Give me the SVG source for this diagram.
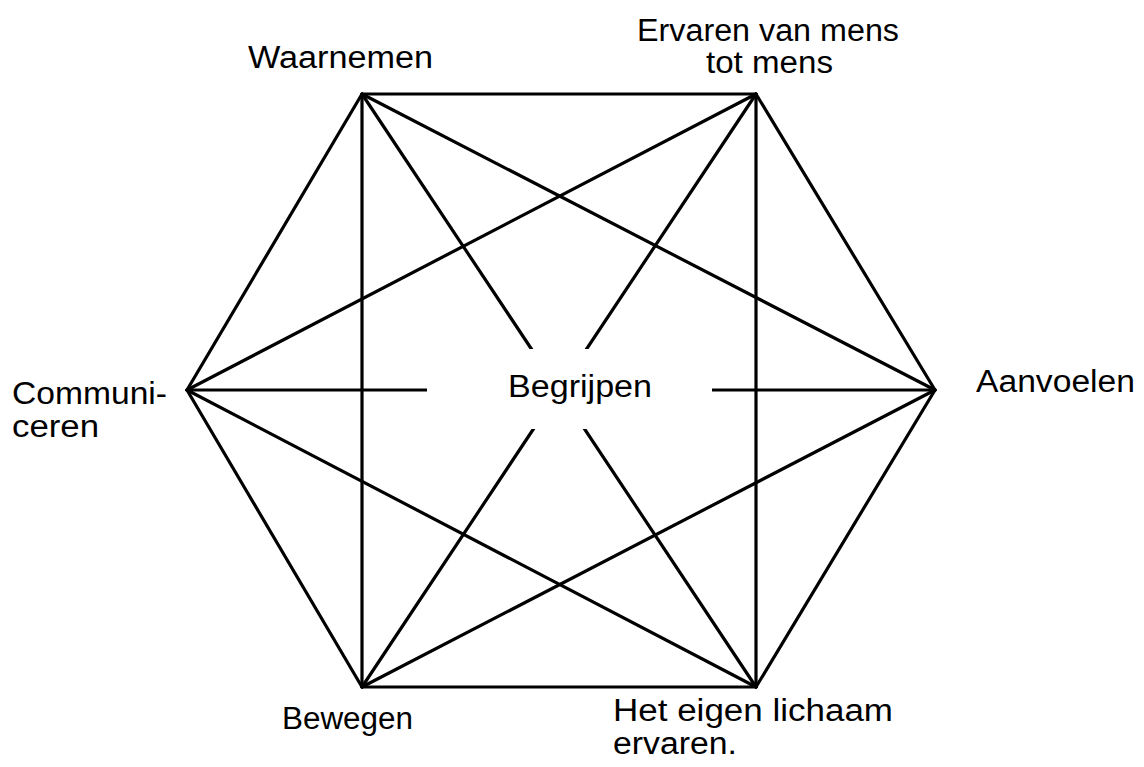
<svg xmlns="http://www.w3.org/2000/svg" width="1144" height="767" viewBox="0 0 1144 767">
<style>
.l{stroke:#000;stroke-width:3.2;fill:none;stroke-linecap:round;stroke-linejoin:round}
text{font-family:"Liberation Sans",Arial,sans-serif;font-size:31px;fill:#000}
</style>
<rect width="1144" height="767" fill="#fff"/>
<g id="connectors">
<polygon class="l" points="362,94 756,94 935,390 756,687 362,687 187,390"/>
<line class="l" x1="362" y1="94" x2="362" y2="687"/>
<line class="l" x1="756" y1="94" x2="756" y2="687"/>
<line class="l" x1="362" y1="94" x2="935" y2="390"/>
<line class="l" x1="362" y1="94" x2="756" y2="687"/>
<line class="l" x1="756" y1="94" x2="187" y2="390"/>
<line class="l" x1="756" y1="94" x2="362" y2="687"/>
<line class="l" x1="187" y1="390" x2="756" y2="687"/>
<line class="l" x1="935" y1="390" x2="362" y2="687"/>
<line class="l" x1="187" y1="390" x2="935" y2="390"/>
<rect x="427" y="349" width="285" height="80" fill="#fff"/>
</g>
<g id="waarnemen"><text x="248" y="68" textLength="185" lengthAdjust="spacingAndGlyphs">Waarnemen</text></g>
<g id="ervaren"><text x="637" y="41" textLength="262" lengthAdjust="spacingAndGlyphs">Ervaren van mens</text><text x="706" y="73" textLength="127" lengthAdjust="spacingAndGlyphs">tot mens</text></g>
<g id="communiceren"><text x="12" y="404" textLength="155" lengthAdjust="spacingAndGlyphs">Communi-</text><text x="12" y="437" textLength="87" lengthAdjust="spacingAndGlyphs">ceren</text></g>
<g id="aanvoelen"><text x="976" y="392" textLength="159" lengthAdjust="spacingAndGlyphs">Aanvoelen</text></g>
<g id="begrijpen"><text x="508" y="397" textLength="144" lengthAdjust="spacingAndGlyphs">Begrijpen</text></g>
<g id="bewegen"><text x="282" y="729" textLength="131" lengthAdjust="spacingAndGlyphs">Bewegen</text></g>
<g id="lichaam"><text x="613" y="721" textLength="280" lengthAdjust="spacingAndGlyphs">Het eigen lichaam</text><text x="613" y="754" textLength="124" lengthAdjust="spacingAndGlyphs">ervaren.</text></g>
</svg>
